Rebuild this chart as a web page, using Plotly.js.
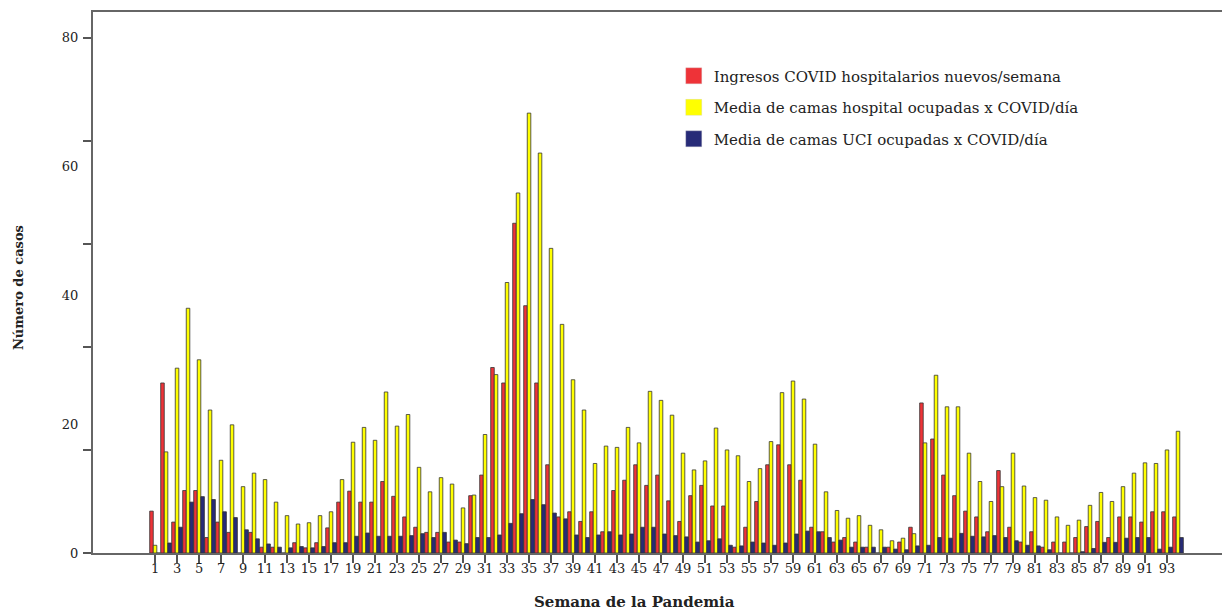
<!DOCTYPE html>
<html>
<head>
<meta charset="utf-8">
<script src="https://cdn.plot.ly/plotly-3.0.1.min.js"></script>
<style>html,body{margin:0;padding:0;background:#fff;}#chart{width:1224px;height:614px;}</style>
</head>
<body>
<div id="chart"></div>
<script>
var weeks = [1,2,3,4,5,6,7,8,9,10,11,12,13,14,15,16,17,18,19,20,21,22,23,24,25,26,27,28,29,30,31,32,33,34,35,36,37,38,39,40,41,42,43,44,45,46,47,48,49,50,51,52,53,54,55,56,57,58,59,60,61,62,63,64,65,66,67,68,69,70,71,72,73,74,75,76,77,78,79,80,81,82,83,84,85,86,87,88,89,90,91,92,93,94];

var ingresos = [6.5,26.4,4.8,9.7,9.7,2.4,4.8,3.2,0,3.2,0.9,0.9,0,1.6,0.8,1.6,3.9,7.9,9.6,7.9,7.9,11.1,8.8,5.6,4.0,3.2,3.2,1.7,1.7,8.9,12.1,28.8,26.4,51.2,38.4,26.4,13.7,5.6,6.4,4.9,6.4,3.3,9.7,11.3,13.7,10.5,12.1,8.1,4.9,8.9,10.5,7.3,7.3,0.9,4.0,8.0,13.7,16.8,13.7,11.3,4.0,3.3,1.7,2.4,1.7,0.9,0,0.9,1.7,4.0,23.3,17.7,12.1,8.9,6.5,5.6,3.3,12.8,4.0,1.7,3.3,0.9,1.7,1.7,2.4,4.1,4.9,2.4,5.6,5.6,4.8,6.4,6.4,5.6];

var camasHospital = [1.2,15.7,28.7,38.0,30.0,22.2,14.4,19.9,10.3,12.4,11.4,7.9,5.8,4.5,4.7,5.8,6.4,11.4,17.2,19.5,17.5,25.0,19.7,21.5,13.3,9.5,11.7,10.7,7.0,9.0,18.4,27.7,42.0,55.9,68.3,62.1,47.3,35.5,26.9,22.2,13.9,16.6,16.4,19.5,17.1,25.1,23.7,21.4,15.5,12.9,14.3,19.4,16.0,15.1,11.1,13.1,17.3,24.9,26.7,23.9,16.9,9.5,6.6,5.4,5.8,4.3,3.6,1.9,2.3,3.0,17.1,27.6,22.7,22.7,15.5,11.1,8.0,10.3,15.5,10.4,8.6,8.2,5.6,4.3,5.1,7.4,9.4,8.0,10.3,12.4,14.0,13.9,16.0,18.9];

var camasUCI = [0,1.55,4.0,7.9,8.75,8.3,6.4,5.5,3.6,2.2,1.4,0.9,0.8,1.0,0.8,1.0,1.6,1.6,2.6,3.1,2.6,2.6,2.6,2.7,3.0,2.4,3.2,2.0,1.45,2.4,2.4,2.8,4.6,6.1,8.3,7.5,6.2,5.3,2.8,2.4,2.8,3.3,2.8,2.95,4.0,4.0,2.95,2.7,2.5,1.7,1.9,2.2,1.2,1.1,1.7,1.55,1.2,1.55,2.95,3.4,3.3,2.4,2.0,0.9,0.9,0.9,0.9,0.6,0.5,1.1,1.2,2.4,2.3,3.05,2.6,2.5,2.7,2.4,1.9,1.2,1.1,0.5,0,0,0.2,0.7,1.65,1.65,2.3,2.4,2.4,0.6,0.9,2.4];

var xTickVals = [1,3,5,7,9,11,13,15,17,19,21,23,25,27,29,31,33,35,37,39,41,43,45,47,49,51,53,55,57,59,61,63,65,67,69,71,73,75,77,79,81,83,85,87,89,91,93];
var xTickText = ["1","3","5","7","9","11","13","15","17","19","21","23","25","27","29","31","33","35","37","39","41","43","45","47","49","51","53","55","57","59","61","63","65","67","69","71","73","75","77","79","81","83","85","87","89","91","93"];
var yTickMarks = [0,16,32,48,64,80];
var yLabelVals = [0,20,40,60,80];
var yLabelText = ["0","20","40","60","80"];

var xTitle = "Semana de la Pandemia";
var yTitle = "Número de casos";
var seriesNames = ["Ingresos COVID hospitalarios nuevos/semana","Media de camas hospital ocupadas x COVID/día","Media de camas UCI ocupadas x COVID/día"];
var seriesColors = ["#ee3338","#ffff00","#272b78"];
var seriesValues = [ingresos, camasHospital, camasUCI];

var traces = [];
seriesValues.forEach(function(vals, i){
  traces.push({
    type: 'bar',
    x: weeks,
    y: vals,
    name: seriesNames[i],
    legendgroup: 'g' + i,
    showlegend: false,
    marker: {color: seriesColors[i], line: {color: '#333333', width: 0.8}},
    hoverinfo: 'x+y+name'
  });
});
// legend entries (larger square swatches), tied to the bar traces by legendgroup
seriesValues.forEach(function(vals, i){
  traces.push({
    type: 'scatter', mode: 'markers',
    x: [null], y: [null],
    name: seriesNames[i],
    legendgroup: 'g' + i,
    showlegend: true,
    hoverinfo: 'skip',
    marker: {symbol: 'square', size: 17, color: seriesColors[i], line: {color: 'rgba(200,200,200,0.6)', width: 0.5}}
  });
});
traces.push({type:'scatter', x:[null], y:[null], yaxis:'y2', showlegend:false, hoverinfo:'skip', mode:'markers'});

var layout = {
  width: 1224, height: 614,
  margin: {l: 93, r: 2, t: 12, b: 61},
  paper_bgcolor: '#ffffff', plot_bgcolor: '#ffffff',
  font: {family: 'DejaVu Serif', size: 12, color: '#222222'},
  barmode: 'group', bargap: 0.03, bargroupgap: 0,
  showlegend: true,
  legend: {x: 0.5144, y: 0.912, xanchor: 'left', yanchor: 'top', font: {size: 15, color: '#222'},
           bgcolor: 'rgba(0,0,0,0)', traceorder: 'grouped', tracegroupgap: 9},
  xaxis: {
    range: [-4.64, 98.0], tickmode: 'array', tickvals: xTickVals, ticktext: xTickText,
    ticks: 'outside', ticklen: 8, tickwidth: 1.5, tickcolor: '#555',
    showline: true, linecolor: '#666', linewidth: 1.5, mirror: true,
    showgrid: false, zeroline: false, tickfont: {size: 13}, ticklabelstandoff: -5
  },
  yaxis: {
    range: [0, 84], tickmode: 'array', tickvals: yTickMarks, showticklabels: false,
    ticks: 'outside', ticklen: 8, tickwidth: 1.5, tickcolor: '#555',
    showline: true, linecolor: '#666', linewidth: 1.5,
    showgrid: false, zeroline: false
  },
  yaxis2: {
    overlaying: 'y', side: 'left', range: [0, 84], tickmode: 'array',
    tickvals: yLabelVals, ticktext: yLabelText,
    ticks: 'outside', ticklen: 11, tickcolor: 'rgba(0,0,0,0)',
    showline: false, showgrid: false, zeroline: false, tickfont: {size: 13}
  },
  annotations: [
    {text: '<b>' + xTitle + '</b>', xref: 'paper', yref: 'paper', x: 0.48, y: -0.0906,
     xanchor: 'center', yanchor: 'middle', showarrow: false, font: {size: 15, color: '#222'}},
    {text: '<b>' + yTitle + '</b>', xref: 'paper', yref: 'paper', x: -0.0664, y: 0.4898,
     xanchor: 'center', yanchor: 'middle', textangle: -90, showarrow: false, font: {size: 13, color: '#222'}}
  ]
};

Plotly.newPlot('chart', traces, layout, {displayModeBar: false});
</script>
</body>
</html>
